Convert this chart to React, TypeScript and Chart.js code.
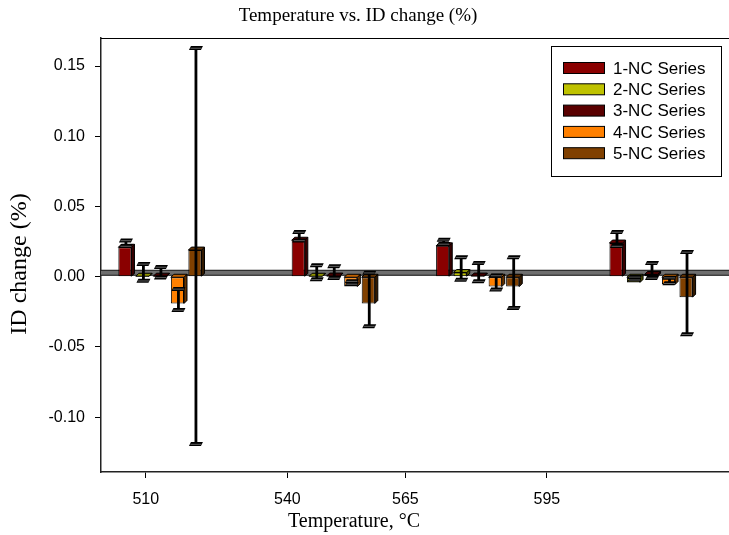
import React, { useEffect, useRef } from "react";
import { Chart, registerables } from "chart.js";

Chart.register(...registerables);

// ---- data ----
const CATEGORIES = [510, 540, 565, 595];
const SERIES_LABELS = ["1-NC Series", "2-NC Series", "3-NC Series", "4-NC Series", "5-NC Series"];
const NC1 = [0.021, 0.026, 0.022, 0.024];
const NC1_ERR = [0.002, 0.003, 0.0015, 0.005];
const NC2 = [0.0003, 0.0003, 0.003, -0.004];
const NC2_ERR = [0.006, 0.005, 0.008, 0.001];
const NC3 = [0.0004, 0.0005, 0.0005, 0.0016];
const NC3_ERR = [0.0037, 0.0042, 0.0065, 0.0053];
const NC4 = [-0.019, -0.007, -0.007, -0.0055];
const NC4_ERR = [0.0075, 0.001, 0.005, 0.002];
const NC5 = [0.019, -0.019, -0.007, -0.0145];
const NC5_ERR = [0.141, 0.019, 0.018, 0.0293];
const Y_TICKS = [-0.1, -0.05, 0, 0.05, 0.1, 0.15];
const COLORS = ["#8a0000", "#bfc200", "#5a0000", "#ff8000", "#804000"];
const TITLE = "Temperature vs. ID change (%)";
const X_TITLE = "Temperature, \u00B0C";
const Y_TITLE = "ID change (%)";

const VALUES = [NC1, NC2, NC3, NC4, NC5];
const ERRORS = [NC1_ERR, NC2_ERR, NC3_ERR, NC4_ERR, NC5_ERR];

const SANS = '"Liberation Sans", Arial, sans-serif';
const SERIF = '"Liberation Serif", "Times New Roman", serif';
const DEPTH = 3;
const PLANE_SHIFT = 4; // 3D mid-plane offset (px)

function shade(hex: string, f: number) {
  const n = parseInt(hex.slice(1), 16);
  const r = Math.round(((n >> 16) & 255) * f);
  const g = Math.round(((n >> 8) & 255) * f);
  const b = Math.round((n & 255) * f);
  return `rgb(${r},${g},${b})`;
}

const decorPlugin = {
  id: "decor",
  beforeDatasetsDraw(chart: any) {
    const c = chart.ctx;
    const area = chart.chartArea;
    const ys = chart.scales.y;
    // zero plane band
    const y0 = ys.getPixelForValue(0) - PLANE_SHIFT;
    c.save();
    c.fillStyle = "#6e6e6e";
    c.fillRect(area.left, y0 - 2.5, area.right - area.left, 5);
    c.strokeStyle = "#111";
    c.lineWidth = 1;
    c.beginPath();
    c.moveTo(area.left, y0 - 2.5);
    c.lineTo(area.right, y0 - 2.5);
    c.moveTo(area.left, y0 + 2.5);
    c.lineTo(area.right, y0 + 2.5);
    c.stroke();
    // 3D faces
    chart.data.datasets.forEach((ds: any, i: number) => {
      const meta = chart.getDatasetMeta(i);
      meta.data.forEach((bar: any) => {
        const { x, y, base, width } = bar.getProps(["x", "y", "base", "width"], true);
        const top = Math.min(y, base);
        const bot = Math.max(y, base);
        const l = x - width / 2;
        const r = x + width / 2;
        c.strokeStyle = "#000";
        c.lineWidth = 1;
        c.fillStyle = shade(COLORS[i], 0.4);
        c.beginPath();
        c.moveTo(r, top);
        c.lineTo(r + DEPTH, top - DEPTH);
        c.lineTo(r + DEPTH, bot - DEPTH);
        c.lineTo(r, bot);
        c.closePath();
        c.fill();
        c.stroke();
        c.fillStyle = shade(COLORS[i], 0.75);
        c.beginPath();
        c.moveTo(l, top);
        c.lineTo(l + DEPTH, top - DEPTH);
        c.lineTo(r + DEPTH, top - DEPTH);
        c.lineTo(r, top);
        c.closePath();
        c.fill();
        c.stroke();
      });
    });
    c.restore();
  },
  afterDatasetsDraw(chart: any) {
    const c = chart.ctx;
    const ys = chart.scales.y;
    c.save();
    c.strokeStyle = "#000";
    c.fillStyle = "#000";
    const cap = (x: number, y: number) => {
      c.beginPath();
      c.moveTo(x - 7, y + 2);
      c.lineTo(x + 5, y + 2);
      c.lineTo(x + 7, y - 2);
      c.lineTo(x - 5, y - 2);
      c.closePath();
      c.fill();
      c.strokeStyle = "#777";
      c.lineWidth = 0.8;
      c.beginPath();
      c.moveTo(x - 5.5, y + 0.2);
      c.lineTo(x + 5.5, y + 0.2);
      c.stroke();
      c.strokeStyle = "#000";
    };
    chart.data.datasets.forEach((ds: any, i: number) => {
      const meta = chart.getDatasetMeta(i);
      meta.data.forEach((bar: any, j: number) => {
        const v = VALUES[i][j];
        const e = ERRORS[i][j];
        const x = bar.x + 1;
        const yt = ys.getPixelForValue(v + e) - PLANE_SHIFT;
        const yb = ys.getPixelForValue(v - e) - PLANE_SHIFT;
        c.lineWidth = 2.8;
        c.beginPath();
        c.moveTo(x, yt);
        c.lineTo(x, yb);
        c.stroke();
        cap(x, yt);
        cap(x, yb);
      });
    });
    c.restore();
  },
  afterDraw(chart: any) {
    const c = chart.ctx;
    const area = chart.chartArea;
    c.save();
    c.strokeStyle = "#000";
    c.lineWidth = 1;
    c.beginPath();
    c.moveTo(area.left, area.top + 0.5);
    c.lineTo(area.right, area.top + 0.5);
    c.stroke();
    // legend
    const lx = 551.5, ly = 46.5, lw = 170, lh = 130;
    c.fillStyle = "#fff";
    c.fillRect(lx, ly, lw, lh);
    c.strokeRect(lx, ly, lw, lh);
    c.font = `17px ${SANS}`;
    c.textAlign = "left";
    c.textBaseline = "middle";
    chart.data.datasets.forEach((ds: any, i: number) => {
      const ry = 68 + i * 21.3;
      c.fillStyle = COLORS[i];
      c.fillRect(563.5, ry - 5.5, 41, 11);
      c.strokeRect(563.5, ry - 5.5, 41, 11);
      c.fillStyle = "#000";
      c.fillText(ds.label, 613, ry + 1);
    });
    // titles
    c.fillStyle = "#000";
    c.textAlign = "center";
    c.textBaseline = "middle";
    c.font = `19px ${SERIF}`;
    c.fillText(TITLE, 358, 16);
    c.font = `20px ${SERIF}`;
    c.fillText(X_TITLE, 354, 522);
    c.font = `24px ${SERIF}`;
    c.translate(20, 264);
    c.rotate(-Math.PI / 2);
    c.fillText(Y_TITLE, 0, 0);
    c.restore();
  },
};

export default function App() {
  const ref = useRef<HTMLCanvasElement>(null);
  useEffect(() => {
    document.body.style.margin = "0";
    const canvas = ref.current!;
    const chart = new Chart(canvas, {
      type: "bar",
      data: {
        datasets: VALUES.map((vals, i) => ({
          label: SERIES_LABELS[i],
          data: CATEGORIES.map((c, j) => ({ x: c, y: vals[j] })),
          backgroundColor: COLORS[i],
          borderColor: "#000",
          borderWidth: 1,
          borderSkipped: false,
          categoryPercentage: 0.606,
          barPercentage: 0.75,
        })),
      } as any,
      options: {
        responsive: false,
        maintainAspectRatio: false,
        animation: false,
        devicePixelRatio: 1,
        layout: { padding: { top: 38, left: 0, right: 0, bottom: 0 } },
        plugins: {
          legend: { display: false },
          title: { display: false },
          tooltip: { enabled: false },
        },
        scales: {
          x: {
            type: "linear",
            display: false,
            offset: false,
            grid: { offset: false },
            min: 499.8,
            max: 608.5,
            afterBuildTicks: (s: any) => {
              s.ticks = CATEGORIES.map((v) => ({ value: v }));
            },
          },
          x2: {
            type: "linear",
            axis: "x",
            position: "bottom",
            offset: false,
            min: 500.5,
            max: 633.6,
            afterBuildTicks: (s: any) => {
              s.ticks = CATEGORIES.map((v) => ({ value: v }));
            },
            afterFit: (s: any) => {
              s.height = 63;
            },
            grid: { offset: false, drawOnChartArea: false, drawTicks: true, tickLength: 6, color: "#000", lineWidth: 1 },
            border: { display: true, color: "#222", width: 1.5 },
            ticks: {
              font: { family: SANS, size: 16 },
              color: "#000",
              padding: 12,
              maxRotation: 0,
              autoSkip: false,
              callback: (v: any) => String(v),
            },
          },
          y: {
            type: "linear",
            min: -0.139,
            max: 0.17,
            afterBuildTicks: (s: any) => {
              s.ticks = Y_TICKS.map((v) => ({ value: v }));
            },
            afterFit: (s: any) => {
              s.width = 101;
            },
            grid: { drawOnChartArea: false, drawTicks: true, tickLength: 6, color: "#000", lineWidth: 1 },
            border: { display: true, color: "#222", width: 1.5 },
            ticks: {
              font: { family: SANS, size: 16 },
              color: "#000",
              padding: 10,
              callback: (v: any) => Number(v).toFixed(2),
            },
          },
        },
      } as any,
      plugins: [decorPlugin],
    });
    return () => chart.destroy();
  }, []);
  return (
    <div style={{ width: 729, height: 535 }}>
      <canvas ref={ref} width={729} height={535} style={{ display: "block" }} />
    </div>
  );
}
